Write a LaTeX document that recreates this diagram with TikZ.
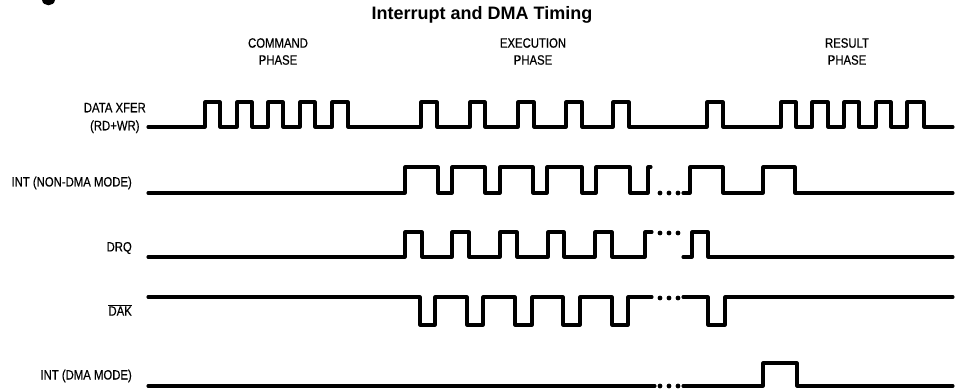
\documentclass[tikz,border=0pt]{standalone}
\usepackage{fontspec}
\setmainfont{Liberation Sans}
\newfontfamily\labfont[FakeStretch=0.84,FakeBold=0.5]{Liberation Sans}
\begin{document}
\begin{tikzpicture}[x=1pt,y=-1pt,
  wave/.style={line width=3.1pt, line join=round, line cap=round},
  lab/.style={font=\labfont\fontsize{13.5}{18}\selectfont, anchor=east, inner sep=0pt, align=center},
  phase/.style={font=\labfont\fontsize{13.5}{17}\selectfont, inner sep=0pt, align=center},
  dotr/.style={radius=2.4pt}]
\useasboundingbox (0,0) rectangle (955,389);
% cut-off glyph at top left
\fill (42,0) .. controls (43,7) and (54,7) .. (55,0) -- cycle;
% title and phases
\node[font=\bfseries\fontsize{18}{20}\selectfont, inner sep=0pt] (title) at (482,15) {Interrupt and DMA Timing};
\node[phase] (cmd) at (278,51.5) {COMMAND\\PHASE};
\node[phase] (exe) at (533,51.5) {EXECUTION\\PHASE};
\node[phase] (res) at (847,51.5) {RESULT\\PHASE};
% labels
\node[lab] (lxfer) at (146,118) {DATA XFER\\(RD+WR)};
\node[lab] (lint) at (132,183) {INT (NON-DMA MODE)};
\node[lab] (ldrq) at (132,248) {DRQ};
\node[lab] (ldak) at (132,310) {$\overline{\mbox{\labfont\fontsize{13.5}{14}\selectfont DAK}}$};
\node[lab] (lintd) at (132,376) {INT (DMA MODE)};
% DATA XFER
\draw[wave] (148,127)
  \foreach \a/\b in {205/220,237/252,268/283,300/315,332/348,421/437,470/485,518/534,566/582,613/629,707/723,781/796,812/828,844/859,876/891,907/924}
  { -- (\a,127) -- (\a,102) -- (\b,102) -- (\b,127) } -- (953,127);
% INT (NON-DMA MODE)
\draw[wave] (148,193)
  \foreach \a/\b in {405/438,452/485,500/533,547/582,596/630}
  { -- (\a,193) -- (\a,167) -- (\b,167) -- (\b,193) } -- (648,193) -- (648,167) -- (651,167);
\foreach \x in {660,669,678} \fill (\x,193) circle[dotr];
\draw[wave] (683,193) -- (690,193) -- (690,167) -- (723,167) -- (723,193) -- (763,193) -- (763,167) -- (795,167) -- (795,193) -- (953,193);
% DRQ
\draw[wave] (148,257)
  \foreach \a/\b in {405/422,452/469,500/517,548/564,595/612}
  { -- (\a,257) -- (\a,232) -- (\b,232) -- (\b,257) } -- (645,257) -- (645,232) -- (652,232);
\foreach \x in {660,669,678} \fill (\x,233) circle[dotr];
\draw[wave] (683,257) -- (692,257) -- (692,232) -- (708,232) -- (708,257) -- (953,257);
% DAK
\draw[wave] (148,297)
  \foreach \a/\b in {420/435,467/483,515/532,563/580,612/628}
  { -- (\a,297) -- (\a,325) -- (\b,325) -- (\b,297) } -- (652,297);
\foreach \x in {660,669,678} \fill (\x,298) circle[dotr];
\draw[wave] (683,297) -- (708,297) -- (708,325) -- (725,325) -- (725,297) -- (953,297);
% INT (DMA MODE)
\draw[wave] (148,386) -- (655,386);
\foreach \x in {660,669,678} \fill (\x,386) circle[dotr];
\draw[wave] (683,386) -- (763,386) -- (763,363) -- (797,363) -- (797,386) -- (953,386);
\end{tikzpicture}
\end{document}
